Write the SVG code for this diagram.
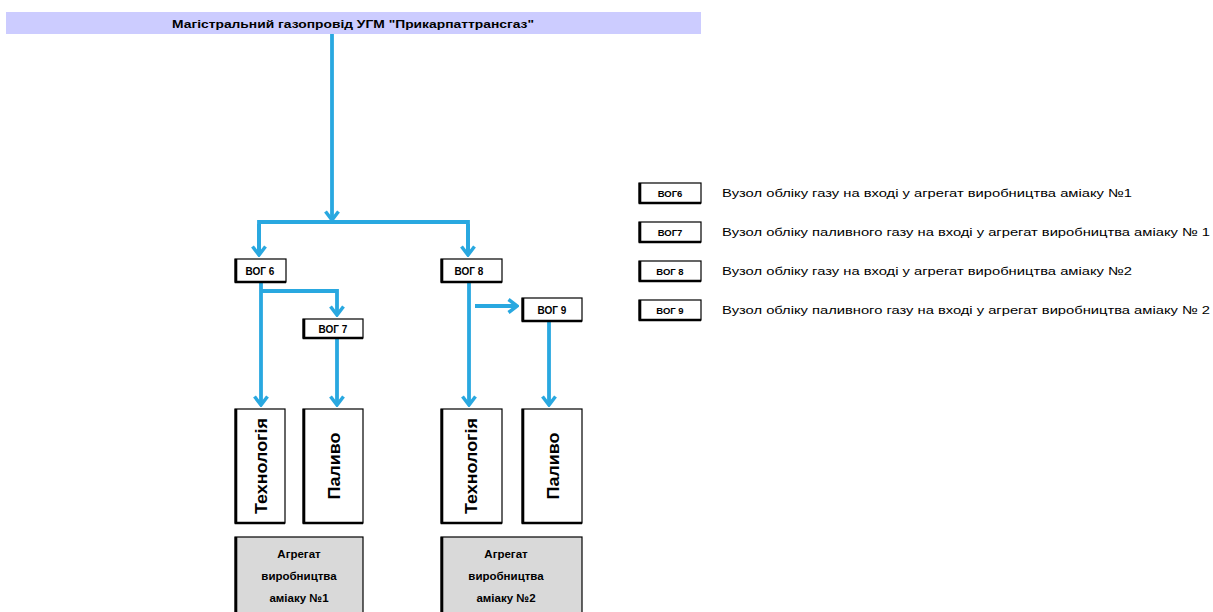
<svg xmlns="http://www.w3.org/2000/svg" width="1213" height="612" viewBox="0 0 1213 612">
<style>
.box{fill:#fff;stroke:#000;stroke-width:1.2}
.agg{fill:#d9d9d9;stroke:#000;stroke-width:1.2}
.edge{stroke:#000;stroke-width:2.6;fill:none}
.ln{stroke:#29a8e0;stroke-width:3.8;fill:none}
.t{font-family:"Liberation Sans",Arial,sans-serif;fill:#000}
.b{font-weight:bold}
</style>
<defs>
<marker id="ah" viewBox="0 0 12 16" refX="10" refY="8" markerWidth="12" markerHeight="16" markerUnits="userSpaceOnUse" orient="auto">
<path d="M1.5,1.5 L10,8 L1.5,14.5" fill="none" stroke="#29a8e0" stroke-width="3.5"/>
</marker>
</defs>
<rect width="1213" height="612" fill="#fff"/>
<g id="header">
<rect x="6" y="12" width="695" height="22" fill="#ccccff"/>
<text class="t b" x="353" y="27.5" font-size="11" text-anchor="middle" textLength="362" lengthAdjust="spacingAndGlyphs">Магістральний газопровід УГМ "Прикарпаттрансгаз"</text>
</g>
<g id="connectors">
<path class="ln" d="M332,34 V220" marker-end="url(#ah)"/>
<path class="ln" d="M259,255 V222 H468 V255" />
<path class="ln" d="M259,224 V255" marker-end="url(#ah)"/>
<path class="ln" d="M468,224 V255" marker-end="url(#ah)"/>
<path class="ln" d="M261,282 V405" marker-end="url(#ah)"/>
<path class="ln" d="M261,291 H337 V315" marker-end="url(#ah)"/>
<path class="ln" d="M337,338 V405" marker-end="url(#ah)"/>
<path class="ln" d="M469,282 V405" marker-end="url(#ah)"/>
<path class="ln" d="M475,306 H517" marker-end="url(#ah)"/>
<path class="ln" d="M549,321 V405" marker-end="url(#ah)"/>
</g>
<g id="vog6">
<rect class="box" x="235" y="259" width="51" height="23"/>
<path class="edge" d="M236,259 V282 H286"/>
<text class="t b" x="260" y="274.5" font-size="10" text-anchor="middle">ВОГ 6</text>
</g>
<g id="vog8">
<rect class="box" x="441" y="259" width="61" height="23"/>
<path class="edge" d="M442,259 V282 H502"/>
<text class="t b" x="469" y="274.5" font-size="10" text-anchor="middle">ВОГ 8</text>
</g>
<g id="vog7">
<rect class="box" x="303" y="319" width="60" height="19"/>
<path class="edge" d="M304,319 V338 H363"/>
<text class="t b" x="333" y="332.5" font-size="10" text-anchor="middle">ВОГ 7</text>
</g>
<g id="vog9">
<rect class="box" x="522" y="298" width="60" height="23"/>
<path class="edge" d="M523,298 V321 H582"/>
<text class="t b" x="552" y="313.5" font-size="10" text-anchor="middle">ВОГ 9</text>
</g>
<g id="tech1">
<rect class="box" x="235" y="409" width="50" height="114"/>
<path class="edge" d="M236,409 V523 H285"/>
<text class="t b" transform="translate(267,466) rotate(-90)" font-size="16" text-anchor="middle" textLength="96" lengthAdjust="spacingAndGlyphs">Технологія</text>
</g>
<g id="fuel1">
<rect class="box" x="303" y="409" width="60" height="114"/>
<path class="edge" d="M304,409 V523 H363"/>
<text class="t b" transform="translate(340,466) rotate(-90)" font-size="16" text-anchor="middle" textLength="67" lengthAdjust="spacingAndGlyphs">Паливо</text>
</g>
<g id="tech2">
<rect class="box" x="441" y="409" width="61" height="114"/>
<path class="edge" d="M442,409 V523 H502"/>
<text class="t b" transform="translate(477,466) rotate(-90)" font-size="16" text-anchor="middle" textLength="96" lengthAdjust="spacingAndGlyphs">Технологія</text>
</g>
<g id="fuel2">
<rect class="box" x="522" y="409" width="60" height="114"/>
<path class="edge" d="M523,409 V523 H582"/>
<text class="t b" transform="translate(559,466) rotate(-90)" font-size="16" text-anchor="middle" textLength="67" lengthAdjust="spacingAndGlyphs">Паливо</text>
</g>
<g id="agg1">
<rect class="agg" x="235" y="537" width="128" height="80"/>
<path class="edge" d="M236,537 V612"/>
<text class="t b" font-size="11.5" text-anchor="middle"><tspan x="299" y="558">Агрегат</tspan><tspan x="299" y="580">виробництва</tspan><tspan x="299" y="602">аміаку №1</tspan></text>
</g>
<g id="agg2">
<rect class="agg" x="441" y="537" width="141" height="80"/>
<path class="edge" d="M442,537 V612"/>
<text class="t b" font-size="11.5" text-anchor="middle"><tspan x="506" y="558">Агрегат</tspan><tspan x="506" y="580">виробництва</tspan><tspan x="506" y="602">аміаку №2</tspan></text>
</g>
<g id="legend">
<g id="leg6">
<rect class="box" x="639" y="183" width="62" height="20"/>
<path class="edge" d="M640,183 V203 H701"/>
<text class="t b" x="670" y="197" font-size="9.5" text-anchor="middle">ВОГ6</text>
<text class="t" x="722" y="197" font-size="11.5" textLength="410" lengthAdjust="spacingAndGlyphs">Вузол обліку газу на вході у агрегат виробництва аміаку №1</text>
</g>
<g id="leg7">
<rect class="box" x="639" y="222" width="62" height="20"/>
<path class="edge" d="M640,222 V242 H701"/>
<text class="t b" x="670" y="236" font-size="9.5" text-anchor="middle">ВОГ7</text>
<text class="t" x="722" y="236" font-size="11.5" textLength="488" lengthAdjust="spacingAndGlyphs">Вузол обліку паливного газу на вході у агрегат виробництва аміаку № 1</text>
</g>
<g id="leg8">
<rect class="box" x="639" y="261" width="62" height="20"/>
<path class="edge" d="M640,261 V281 H701"/>
<text class="t b" x="670" y="275" font-size="9.5" text-anchor="middle">ВОГ 8</text>
<text class="t" x="722" y="275" font-size="11.5" textLength="410" lengthAdjust="spacingAndGlyphs">Вузол обліку газу на вході у агрегат виробництва аміаку №2</text>
</g>
<g id="leg9">
<rect class="box" x="639" y="300" width="62" height="20"/>
<path class="edge" d="M640,300 V320 H701"/>
<text class="t b" x="670" y="314" font-size="9.5" text-anchor="middle">ВОГ 9</text>
<text class="t" x="722" y="314" font-size="11.5" textLength="488" lengthAdjust="spacingAndGlyphs">Вузол обліку паливного газу на вході у агрегат виробництва аміаку № 2</text>
</g>
</g>
</svg>
